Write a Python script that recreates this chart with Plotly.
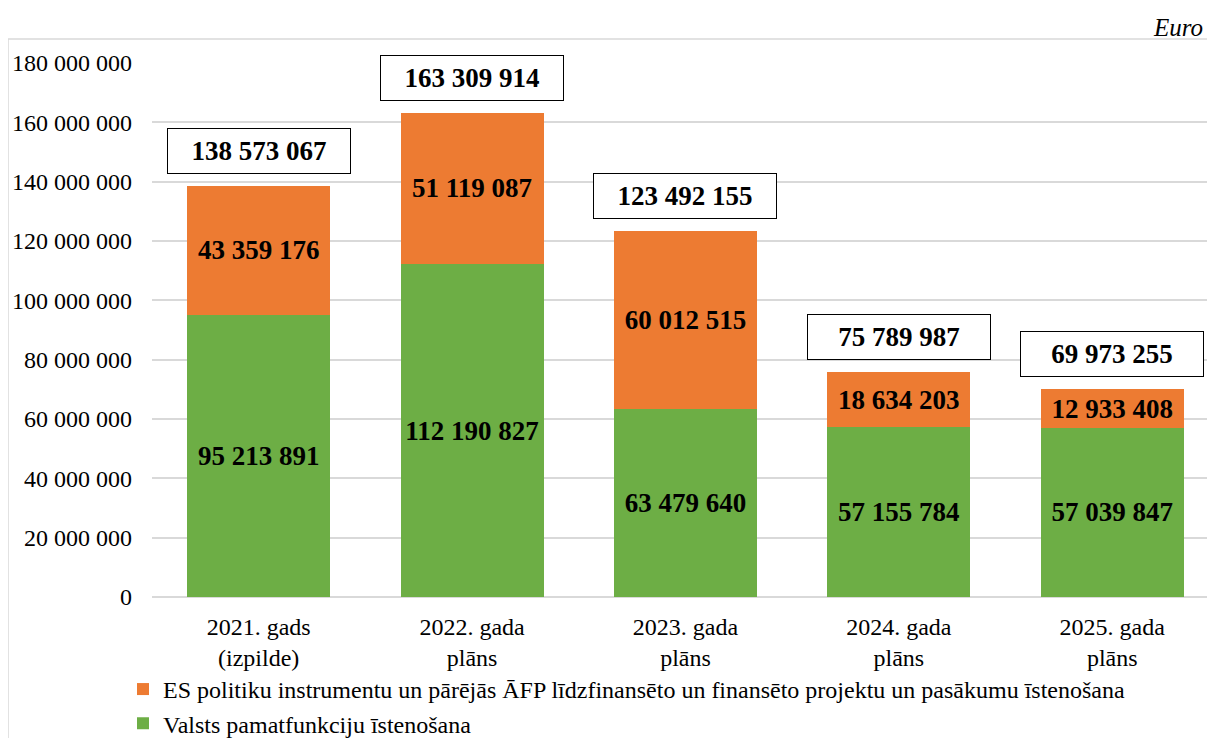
import plotly.graph_objects as go

categories = ["2021. gads<br>(izpilde)", "2022. gada<br>plāns", "2023. gada<br>plāns",
              "2024. gada<br>plāns", "2025. gada<br>plāns"]
base_values = [95213891, 112190827, 63479640, 57155784, 57039847]
eu_values = [43359176, 51119087, 60012515, 18634203, 12933408]
totals = [138573067, 163309914, 123492155, 75789987, 69973255]
base_name = "Valsts pamatfunkciju īstenošana"
eu_name = "ES politiku instrumentu un pārējās ĀFP līdzfinansēto un finansēto projektu un pasākumu īstenošana"
y_ticks = [0, 20000000, 40000000, 60000000, 80000000, 100000000, 120000000, 140000000, 160000000, 180000000]

FONT = "Liberation Serif"

fig = go.Figure()
fig.add_trace(go.Bar(
    x=categories, y=base_values, name=base_name,
    marker=dict(color="#6DAE45", line=dict(width=0)),
    texttemplate="<b>%{y:,d}</b>", textposition="inside", insidetextanchor="middle",
    textangle=0, constraintext="none",
    textfont=dict(family=FONT, size=27, color="black"),
    width=0.67, legendgroup="a", legendrank=2,
))
fig.add_trace(go.Bar(
    x=categories, y=eu_values, name=eu_name,
    marker=dict(color="#ED7B32", line=dict(width=0)),
    texttemplate="<b>%{y:,d}</b>", textposition="inside", insidetextanchor="middle",
    textangle=0, constraintext="none",
    textfont=dict(family=FONT, size=27, color="black"),
    width=0.67, legendgroup="b", legendrank=1,
))

for c, t in zip(categories, totals):
    fig.add_annotation(
        x=c, y=t, xref="x", yref="y", yanchor="bottom", yshift=12,
        text="<b>" + f"{t:,}".replace(",", " ") + "</b>", showarrow=False,
        font=dict(family=FONT, size=27, color="black"),
        bgcolor="white", bordercolor="black", borderwidth=1,
        width=174, height=36, borderpad=4,
    )

fig.add_annotation(
    x=1, y=1.067, xref="paper", yref="paper", xanchor="right", yanchor="middle",
    xshift=-2,
    text="<i>Euro</i>", showarrow=False,
    font=dict(family=FONT, size=25, color="black"),
)

fig.add_shape(
    type="rect", xref="paper", yref="paper",
    x0=-0.1365, x1=1.05, y0=-0.4, y1=1.045,
    line=dict(color="#D9D9D9", width=1.5), fillcolor="rgba(0,0,0,0)", layer="below",
)

fig.update_layout(
    width=1199, height=730,
    margin=dict(l=144, r=0, t=55, b=141, autoexpand=False),
    barmode="stack",
    separators=". ",
    paper_bgcolor="white", plot_bgcolor="white",
    font=dict(family=FONT, size=24, color="black"),
    legend=dict(
        x=-0.0275, y=-0.131, xanchor="left", yanchor="top",
        orientation="v", traceorder="grouped", tracegroupgap=0,
        font=dict(family=FONT, size=24, color="black"),
        bgcolor="rgba(0,0,0,0)",
    ),
    showlegend=True,
)
fig.update_xaxes(
    range=[-0.5, 4.444], showgrid=False, showline=False, ticks="",
    ticklabelstandoff=13,
    tickfont=dict(family=FONT, size=24, color="black"),
)
fig.update_yaxes(
    range=[0, 180000000], tickvals=y_ticks, tickformat=",d",
    showgrid=True, gridcolor="#D9D9D9", gridwidth=1.5,
    zeroline=True, zerolinecolor="#D9D9D9", zerolinewidth=1.5,
    showline=False, ticks="", ticklabelstandoff=19,
    tickfont=dict(family=FONT, size=24, color="black"),
)

fig.write_html("out.html")
